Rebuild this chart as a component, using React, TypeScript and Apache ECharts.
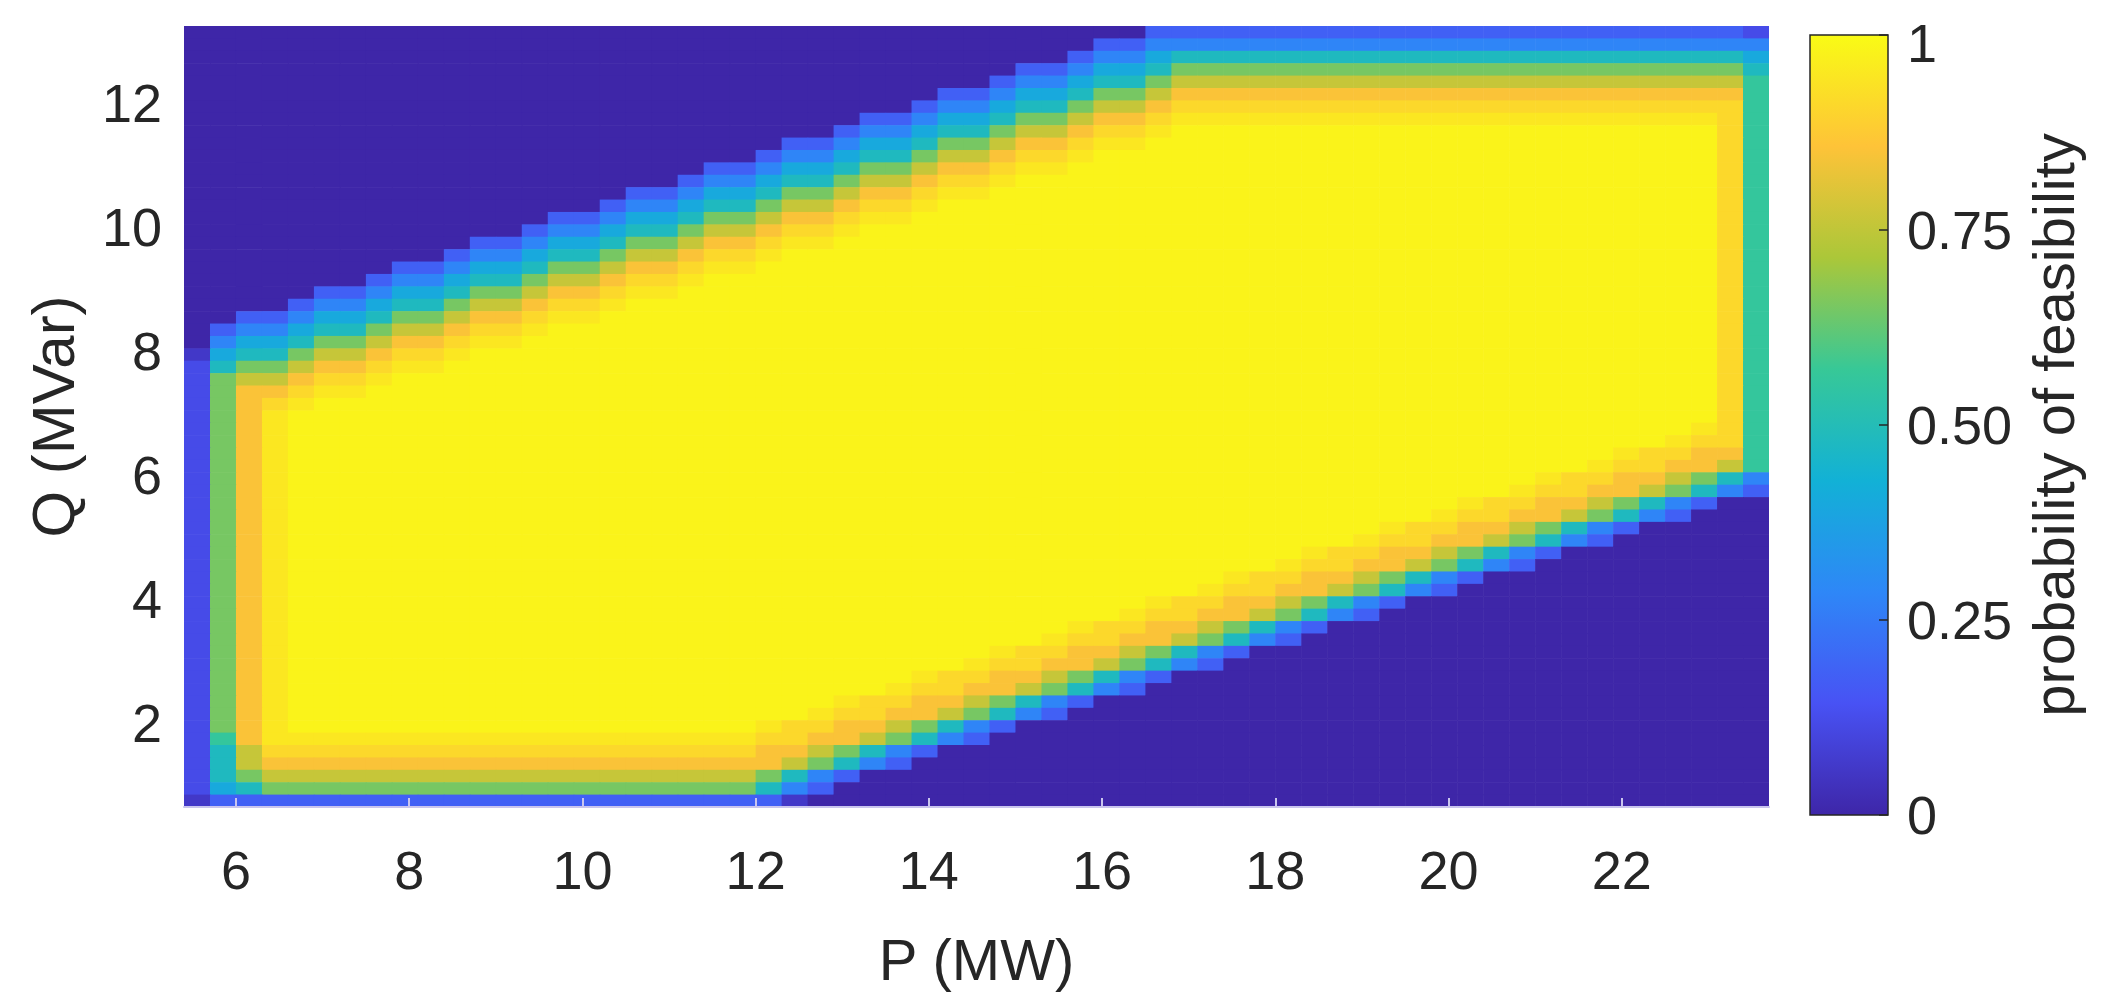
import React, { useEffect, useRef } from "react";
import * as echarts from "echarts";

// Cell centres of the probability grid (P in MW, Q in MVar, Q listed bottom to top)
const P_CENTERS = [
  5.55, 5.85, 6.15, 6.45, 6.75, 7.05, 7.35, 7.65, 7.95, 8.25,
  8.55, 8.85, 9.15, 9.45, 9.75, 10.05, 10.35, 10.65, 10.95, 11.25,
  11.55, 11.85, 12.15, 12.45, 12.75, 13.05, 13.35, 13.65, 13.95, 14.25,
  14.55, 14.85, 15.15, 15.45, 15.75, 16.05, 16.35, 16.65, 16.95, 17.25,
  17.55, 17.85, 18.15, 18.45, 18.75, 19.05, 19.35, 19.65, 19.95, 20.25,
  20.55, 20.85, 21.15, 21.45, 21.75, 22.05, 22.35, 22.65, 22.95, 23.25,
  23.55,
];
const Q_CENTERS = [
  0.75, 0.95, 1.15, 1.35, 1.55, 1.75, 1.95, 2.15, 2.35, 2.55,
  2.75, 2.95, 3.15, 3.35, 3.55, 3.75, 3.95, 4.15, 4.35, 4.55,
  4.75, 4.95, 5.15, 5.35, 5.55, 5.75, 5.95, 6.15, 6.35, 6.55,
  6.75, 6.95, 7.15, 7.35, 7.55, 7.75, 7.95, 8.15, 8.35, 8.55,
  8.75, 8.95, 9.15, 9.35, 9.55, 9.75, 9.95, 10.15, 10.35, 10.55,
  10.75, 10.95, 11.15, 11.35, 11.55, 11.75, 11.95, 12.15, 12.35, 12.55,
  12.75, 12.95, 13.15,
];
const CELL_WIDTH = 0.3;
const CELL_HEIGHT = 0.2;

// Probability levels, one code character per cell
const LEVEL_CODES = "0123456789ABCD";
const LEVEL_VALUES = [0, 0.06, 0.12, 0.18, 0.28, 0.4, 0.48, 0.56, 0.65, 0.76, 0.85, 0.91, 0.95, 0.98];

// Rows from the top (Q = 13.15) to the bottom (Q = 0.75); "X*n" = code X repeated n times
const ROWS = [
  "0*37 3*23 2",
  "0*35 33 4*24",
  "0*34 34456 6*21 5",
  "0*32 334556 8*22 6",
  "0*31 3445668 9*22 7",
  "0*29 334556889 A*22 7",
  "0*28 344566899A B*22 7",
  "0*26 334556889AABCC C*19 B7",
  "0*25 344566899ABBC D*21 B7",
  "0*23 334556889AABCC D*22 B7",
  "0*22 344566899ABBC D*24 B7",
  "0*20 334556889AABCC D*25 B7",
  "0*19 344566899ABBC D*27 B7",
  "0*17 334556889AABCC D*28 B7",
  "0*16 344566899ABBC D*30 B7",
  "0*14 334556889AABCC D*31 B7",
  "0*13 344566899ABBC D*33 B7",
  "0*11 334556889AABCC D*34 B7",
  "0*10 344566899ABBC D*36 B7",
  "0*8 334556889AABCC D*37 B7",
  "0*7 344566899ABBC D*39 B7",
  "0*5 334556889AABCC D*40 B7",
  "0*4 344566899ABBC D*42 B7",
  "00 334556889AABCC D*43 B7",
  "0344566899ABBC D*45 B7",
  "04556889AABCC D*46 B7",
  "1566899ABBC D*48 B7",
  "26889AABCC D*49 B7",
  "2899ABBC D*51 B7",
  "28AABCC D*52 B7",
  "28ABC D*54 B7",
  "28AC D*55 B7",
  "28AC D*54 C B7",
  "28AC D*53 CB B7",
  "28AC D*51 CBBA A7",
  "28AC D*50 CBBAA 97",
  "28AC D*48 CBBAA98 64",
  "28AC D*47 CBBAA9864 3",
  "28AC D*45 CBBAA98643 0*2",
  "28AC D*44 CBBAA98643 0*3",
  "28AC D*42 CBBAA98643 0*5",
  "28AC D*41 CBBAA98643 0*6",
  "28AC D*39 CBBAA98643 0*8",
  "28AC D*38 CBBAA98643 0*9",
  "28AC D*36 CBBAA98643 0*11",
  "28AC D*35 CBBAA98643 0*12",
  "28AC D*33 CBBAA98643 0*14",
  "28AC D*32 CBBAA98643 0*15",
  "28AC D*30 CBBAA98643 0*17",
  "28AC D*29 CBBAA98643 0*18",
  "28AC D*27 CBBAA98643 0*20",
  "28AC D*26 CBBAA98643 0*21",
  "28AC D*24 CBBAA98643 0*23",
  "28AC D*23 CBBAA98643 0*24",
  "28AC D*21 CBBAA98643 0*26",
  "28AC D*20 CBBAA98643 0*27",
  "28AC D*18 CBBAA98643 0*29",
  "27A C*19 BBAA98643 0*30",
  "269 B*19 AA98643 0*32",
  "269 A*20 98643 0*33",
  "268 9*19 8643 0*35",
  "256 8*19 643 0*36",
  "1 3*22 1 0*37",
];

const X_TICKS = [6, 8, 10, 12, 14, 16, 18, 20, 22];
const Y_TICKS = [2, 4, 6, 8, 10, 12];
const CBAR_TICKS = [0, 0.25, 0.5, 0.75, 1];
const CBAR_LABELS = ["0", "0.25", "0.50", "0.75", "1"];
const CBAR_RANGE = [0, 1];

const PARULA = ["#3E26A8", "#4852F4", "#2E87F7", "#12B1D6", "#37C897", "#ABC739", "#FEC338", "#F9FB15"];

function expandRow(s: string): string {
  return s
    .split(" ")
    .map((tok) => {
      const k = tok.indexOf("*");
      return k >= 0 ? tok[0].repeat(parseInt(tok.slice(k + 1), 10)) : tok;
    })
    .join("");
}

export default function App() {
  const ref = useRef<HTMLDivElement>(null);

  useEffect(() => {
    if (!ref.current) return;
    const chart = echarts.init(ref.current, undefined, { renderer: "svg" });

    const data: number[][] = [];
    ROWS.forEach((row, t) => {
      const codes = expandRow(row);
      const q = Q_CENTERS[Q_CENTERS.length - 1 - t];
      for (let i = 0; i < P_CENTERS.length; i++) {
        const idx = LEVEL_CODES.indexOf(codes[i] ?? "0");
        data.push([P_CENTERS[i], q, LEVEL_VALUES[Math.max(0, idx)]]);
      }
    });

    const font = 'Arial, "Liberation Sans", Helvetica, sans-serif';
    const textColor = "#262626";

    const cellRenderer = (params: any, api: any) => {
      const p = api.value(0);
      const q = api.value(1);
      const a = api.coord([p - CELL_WIDTH / 2, q + CELL_HEIGHT / 2]);
      const b = api.coord([p + CELL_WIDTH / 2, q - CELL_HEIGHT / 2]);
      return {
        type: "rect",
        shape: { x: a[0], y: a[1], width: b[0] - a[0] + 0.6, height: b[1] - a[1] + 0.6 },
        style: { fill: api.visual("color") },
      };
    };

    const colorbarRenderer = (params: any, api: any) => {
      const tl = api.coord([0, CBAR_RANGE[1]]);
      const br = api.coord([1, CBAR_RANGE[0]]);
      const ticks = CBAR_TICKS.map((t) => {
        const y = api.coord([1, t])[1];
        return {
          type: "line",
          shape: { x1: br[0] - 9, y1: y, x2: br[0], y2: y },
          style: { stroke: "#262626", lineWidth: 1.5 },
        };
      });
      return {
        type: "group",
        children: [
          {
            type: "rect",
            shape: { x: tl[0], y: tl[1], width: br[0] - tl[0], height: br[1] - tl[1] },
            style: {
              fill: {
                type: "linear",
                x: 0,
                y: 1,
                x2: 0,
                y2: 0,
                colorStops: PARULA.map((c, k) => ({ offset: k / (PARULA.length - 1), color: c })),
              },
              stroke: "#262626",
              lineWidth: 1.5,
            },
          },
          ...ticks,
        ],
      };
    };

    chart.setOption({
      animation: false,
      backgroundColor: "#ffffff",
      grid: [
        { left: 184, top: 26, width: 1585, height: 789 },
        { left: 1810, top: 26, width: 78, height: 789 },
      ],
      xAxis: [
        {
          type: "value",
          gridIndex: 0,
          min: 5.4,
          max: 23.7,
          z: 5,
          axisLine: { show: true, onZero: false, lineStyle: { color: "#c9c5ee", width: 2 } },
          axisTick: {
            show: true,
            inside: true,
            length: 9,
            customValues: X_TICKS,
            lineStyle: { color: "#c9c5ee", width: 2 },
          },
          axisLabel: { customValues: X_TICKS, fontSize: 54, color: textColor, fontFamily: font, margin: 36 },
          splitLine: { show: false },
          name: "P (MW)",
          nameLocation: "middle",
          nameGap: 123,
          nameTextStyle: { fontSize: 58, color: textColor, fontFamily: font },
        },
        { type: "value", gridIndex: 1, min: 0, max: 1, show: false },
      ],
      yAxis: [
        {
          type: "value",
          gridIndex: 0,
          min: 0.65,
          max: 13.25,
          z: 5,
          axisLine: { show: false },
          axisTick: { show: false },
          axisLabel: { customValues: Y_TICKS, fontSize: 54, color: textColor, fontFamily: font, margin: 22 },
          splitLine: { show: false },
          name: "Q (MVar)",
          nameLocation: "middle",
          nameGap: 101,
          nameTextStyle: { fontSize: 60, color: textColor, fontFamily: font },
        },
        {
          type: "value",
          gridIndex: 1,
          position: "right",
          min: 0,
          max: 1,
          interval: 0.25,
          z: 5,
          axisLine: { show: false },
          axisTick: { show: false },
          axisLabel: {
            fontSize: 54,
            lineHeight: 44,
            color: textColor,
            fontFamily: font,
            margin: 19,
            formatter: (v: number) => {
              const k = CBAR_TICKS.findIndex((t) => Math.abs(t - v) < 1e-9);
              const label = k >= 0 ? CBAR_LABELS[k] : String(v);
              return k === CBAR_TICKS.length - 1 ? `{top|${label}}` : label;
            },
            rich: {
              top: {
                fontSize: 54,
                lineHeight: 44,
                color: textColor,
                fontFamily: font,
                padding: [16, 0, 0, 0],
              },
            },
          },
          splitLine: { show: false },
          name: "probability of feasibility",
          nameLocation: "middle",
          nameRotate: 90,
          nameGap: 136,
          nameTextStyle: { fontSize: 58, color: textColor, fontFamily: font },
        },
      ],
      visualMap: {
        type: "continuous",
        show: false,
        min: 0,
        max: 1,
        dimension: 2,
        seriesIndex: 0,
        inRange: { color: PARULA },
      },
      series: [
        {
          type: "custom",
          xAxisIndex: 0,
          yAxisIndex: 0,
          data,
          renderItem: cellRenderer,
          clip: true,
          silent: true,
          progressive: 0,
        },
        {
          type: "custom",
          xAxisIndex: 1,
          yAxisIndex: 1,
          data: [[0.5, 0.5]],
          renderItem: colorbarRenderer,
          silent: true,
        },
      ],
    });

    return () => chart.dispose();
  }, []);

  return (
    <div
      ref={ref}
      style={{ position: "fixed", left: 0, top: 0, width: 2123, height: 993, background: "#ffffff" }}
    />
  );
}
